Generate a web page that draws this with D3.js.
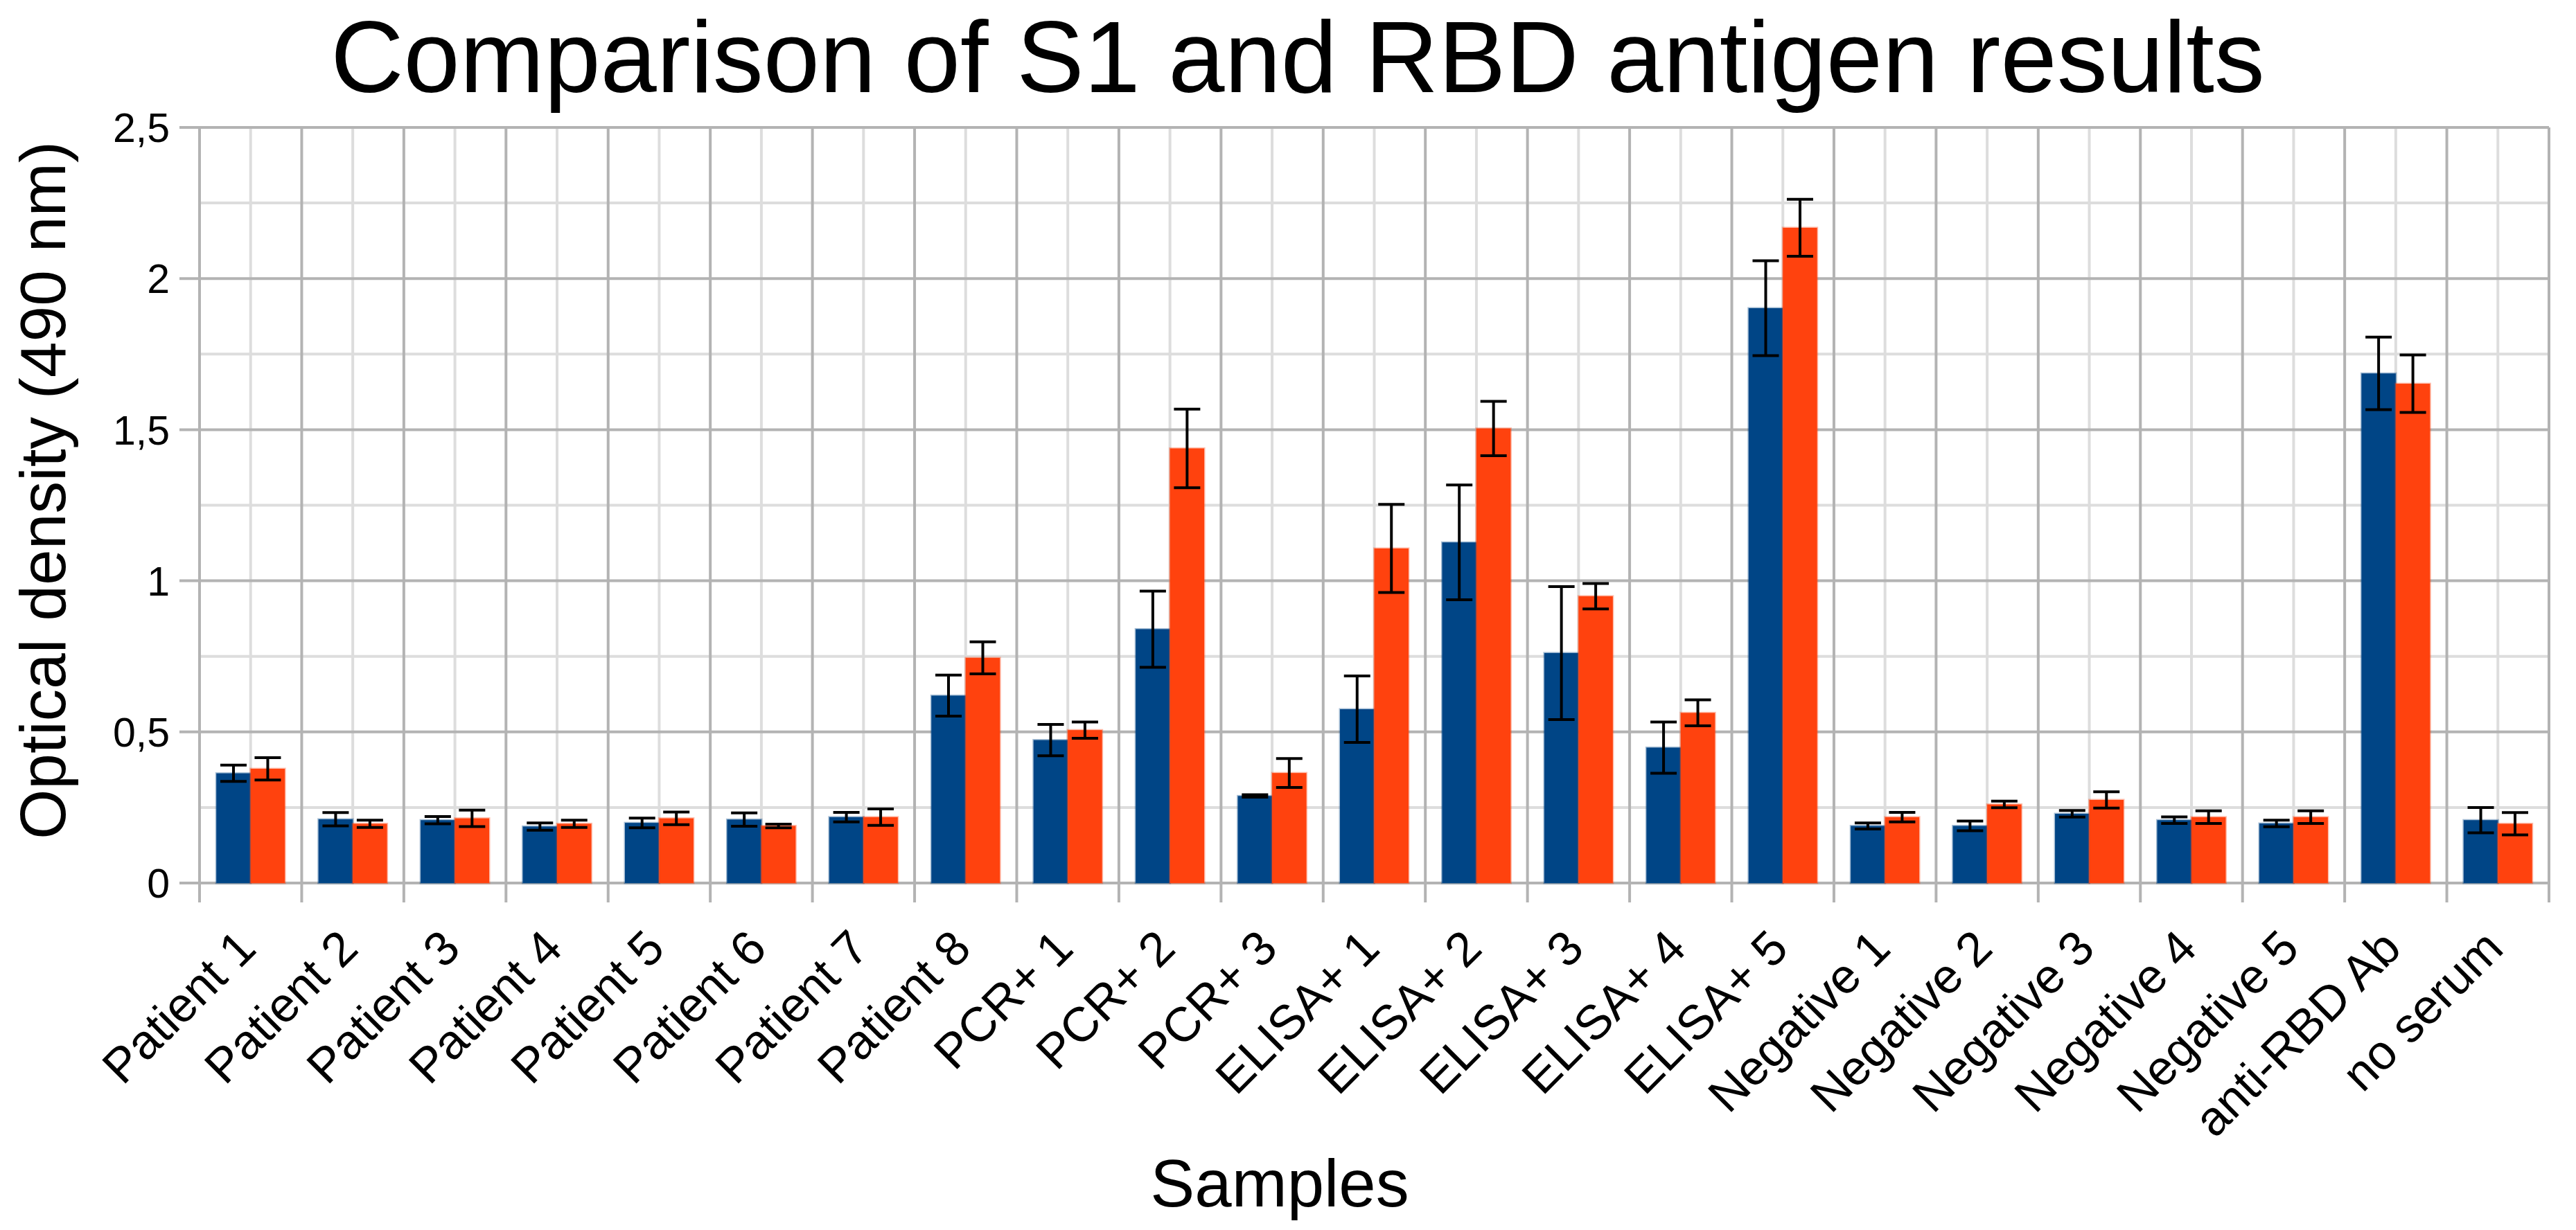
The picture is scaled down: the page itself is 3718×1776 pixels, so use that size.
<!DOCTYPE html>
<html>
<head>
<meta charset="utf-8">
<script src="https://cdn.jsdelivr.net/npm/d3@7"></script>
<style>
  body { margin: 0; background: #fff; }
  text { font-family: "Liberation Sans", Arial, sans-serif; fill: #000; }
</style>
</head>
<body>
<div id="chart"><svg></svg></div>
<script>
const categories = [
  "Patient 1", "Patient 2", "Patient 3", "Patient 4", "Patient 5",
  "Patient 6", "Patient 7", "Patient 8", "PCR+ 1", "PCR+ 2", "PCR+ 3",
  "ELISA+ 1", "ELISA+ 2", "ELISA+ 3", "ELISA+ 4", "ELISA+ 5",
  "Negative 1", "Negative 2", "Negative 3", "Negative 4", "Negative 5",
  "anti-RBD Ab", "no serum",
];
const seriesNames = ["S1", "RBD"];

const s1Values = [
  0.363, 0.211, 0.208, 0.187, 0.199, 0.21, 0.218, 0.62, 0.473, 0.84, 0.288,
  0.575, 1.127, 0.761, 0.448, 1.902, 0.189, 0.189, 0.229, 0.208, 0.197,
  1.686, 0.208,
];
const s1Errors = [
  0.027, 0.022, 0.012, 0.012, 0.016, 0.022, 0.016, 0.068, 0.052, 0.126, 0.004,
  0.11, 0.19, 0.22, 0.085, 0.157, 0.01, 0.016, 0.011, 0.011, 0.011, 0.12,
  0.042,
];
const rbdValues = [
  0.378, 0.196, 0.214, 0.196, 0.214, 0.189, 0.218, 0.745, 0.506, 1.438, 0.364,
  1.107, 1.504, 0.949, 0.563, 2.168, 0.218, 0.26, 0.275, 0.218, 0.218, 1.652,
  0.196,
];
const rbdErrors = [
  0.037, 0.012, 0.027, 0.012, 0.021, 0.006, 0.027, 0.053, 0.027, 0.13, 0.048,
  0.146, 0.09, 0.042, 0.043, 0.094, 0.016, 0.011, 0.027, 0.021, 0.021, 0.095,
  0.037,
];
const yTicks = [0, 0.5, 1, 1.5, 2, 2.5];
const yMinorTicks = [0.25, 0.75, 1.25, 1.75, 2.25];

const width = 3718;
const height = 1776;
const plotLeft = 288;
const plotRight = 3679;
const plotTop = 184;
const plotBottom = 1275;
const colors = { S1: "#004586", RBD: "#ff420e" };

const data = categories.map((c, i) => ({
  category: c,
  values: [
    { series: "S1", value: s1Values[i], error: s1Errors[i] },
    { series: "RBD", value: rbdValues[i], error: rbdErrors[i] },
  ],
}));

const svg = d3
  .select("#chart")
  .select("svg")
  .attr("width", width)
  .attr("height", height);

const x0 = d3.scaleBand().domain(categories).range([plotLeft, plotRight]);
const x1 = d3
  .scaleBand()
  .domain(seriesNames)
  .range([0, x0.bandwidth()])
  .paddingOuter(0.49);
const y = d3.scaleLinear().domain([0, 2.5]).range([plotBottom, plotTop]);

const grid = svg.append("g").attr("class", "grid");

// minor grid first (lighter)
grid
  .selectAll(".h-minor")
  .data(yMinorTicks)
  .enter()
  .append("line")
  .attr("x1", plotLeft)
  .attr("x2", plotRight)
  .attr("y1", (d) => y(d))
  .attr("y2", (d) => y(d))
  .attr("stroke", "#dddddd")
  .attr("stroke-width", 4);

grid
  .selectAll(".v-minor")
  .data(categories)
  .enter()
  .append("line")
  .attr("x1", (d) => x0(d) + x0.bandwidth() / 2)
  .attr("x2", (d) => x0(d) + x0.bandwidth() / 2)
  .attr("y1", plotTop)
  .attr("y2", plotBottom)
  .attr("stroke", "#dddddd")
  .attr("stroke-width", 4);

grid
  .selectAll(".v-major")
  .data(categories.concat(["__end"]))
  .enter()
  .append("line")
  .attr("x1", (d) => (d === "__end" ? plotRight : x0(d)))
  .attr("x2", (d) => (d === "__end" ? plotRight : x0(d)))
  .attr("y1", plotTop)
  .attr("y2", plotBottom + 28)
  .attr("stroke", "#b3b3b3")
  .attr("stroke-width", 4);

grid
  .selectAll(".h-major")
  .data(yTicks)
  .enter()
  .append("line")
  .attr("x1", plotLeft - 29)
  .attr("x2", plotRight)
  .attr("y1", (d) => y(d))
  .attr("y2", (d) => y(d))
  .attr("stroke", "#b3b3b3")
  .attr("stroke-width", 4);

// y tick labels
svg
  .append("g")
  .selectAll("text")
  .data(yTicks)
  .enter()
  .append("text")
  .attr("x", 245)
  .attr("y", (d) => y(d))
  .attr("dy", "0.36em")
  .attr("text-anchor", "end")
  .style("font-size", "59px")
  .text((d) => d3.format("~g")(d).replace(".", ","));

// bars
const groups = svg
  .append("g")
  .selectAll(".group")
  .data(data)
  .enter()
  .append("g")
  .attr("class", "group")
  .attr("transform", (d) => `translate(${x0(d.category)},0)`);

groups
  .selectAll("rect")
  .data((d) => d.values)
  .enter()
  .append("rect")
  .attr("x", (d) => x1(d.series))
  .attr("width", x1.bandwidth())
  .attr("y", (d) => y(d.value))
  .attr("height", (d) => y(0) - y(d.value))
  .attr("fill", (d) => colors[d.series])
  .attr("stroke", (d) => colors[d.series])
  .attr("stroke-opacity", 0.35)
  .attr("stroke-width", 3);

// error bars
const capHalf = 19;
const err = groups
  .selectAll(".err")
  .data((d) => d.values)
  .enter()
  .append("g")
  .attr("class", "err")
  .attr("stroke", "#000")
  .attr("stroke-width", 4);

err
  .append("line")
  .attr("x1", (d) => x1(d.series) + x1.bandwidth() / 2)
  .attr("x2", (d) => x1(d.series) + x1.bandwidth() / 2)
  .attr("y1", (d) => y(d.value + d.error))
  .attr("y2", (d) => y(d.value - d.error));

err
  .append("line")
  .attr("x1", (d) => x1(d.series) + x1.bandwidth() / 2 - capHalf)
  .attr("x2", (d) => x1(d.series) + x1.bandwidth() / 2 + capHalf)
  .attr("y1", (d) => y(d.value + d.error))
  .attr("y2", (d) => y(d.value + d.error));

err
  .append("line")
  .attr("x1", (d) => x1(d.series) + x1.bandwidth() / 2 - capHalf)
  .attr("x2", (d) => x1(d.series) + x1.bandwidth() / 2 + capHalf)
  .attr("y1", (d) => y(d.value - d.error))
  .attr("y2", (d) => y(d.value - d.error));

// x labels, rotated 45 degrees
svg
  .append("g")
  .selectAll("text")
  .data(categories)
  .enter()
  .append("text")
  .attr(
    "transform",
    (d) =>
      `translate(${x0(d) + x0.bandwidth() / 2 + 11},${plotBottom + 98}) rotate(-45)`
  )
  .attr("text-anchor", "end")
  .style("font-size", "70px")
  .text((d) => d);

// titles
svg
  .append("text")
  .attr("x", 1873)
  .attr("y", 133)
  .attr("text-anchor", "middle")
  .style("font-size", "146px")
  .text("Comparison of S1 and RBD antigen results");

svg
  .append("text")
  .attr("x", 1847)
  .attr("y", 1742)
  .attr("text-anchor", "middle")
  .style("font-size", "96px")
  .text("Samples");

svg
  .append("text")
  .attr("transform", "translate(94,708) rotate(-90)")
  .attr("text-anchor", "middle")
  .style("font-size", "93px")
  .text("Optical density (490 nm)");
</script>
</body>
</html>
